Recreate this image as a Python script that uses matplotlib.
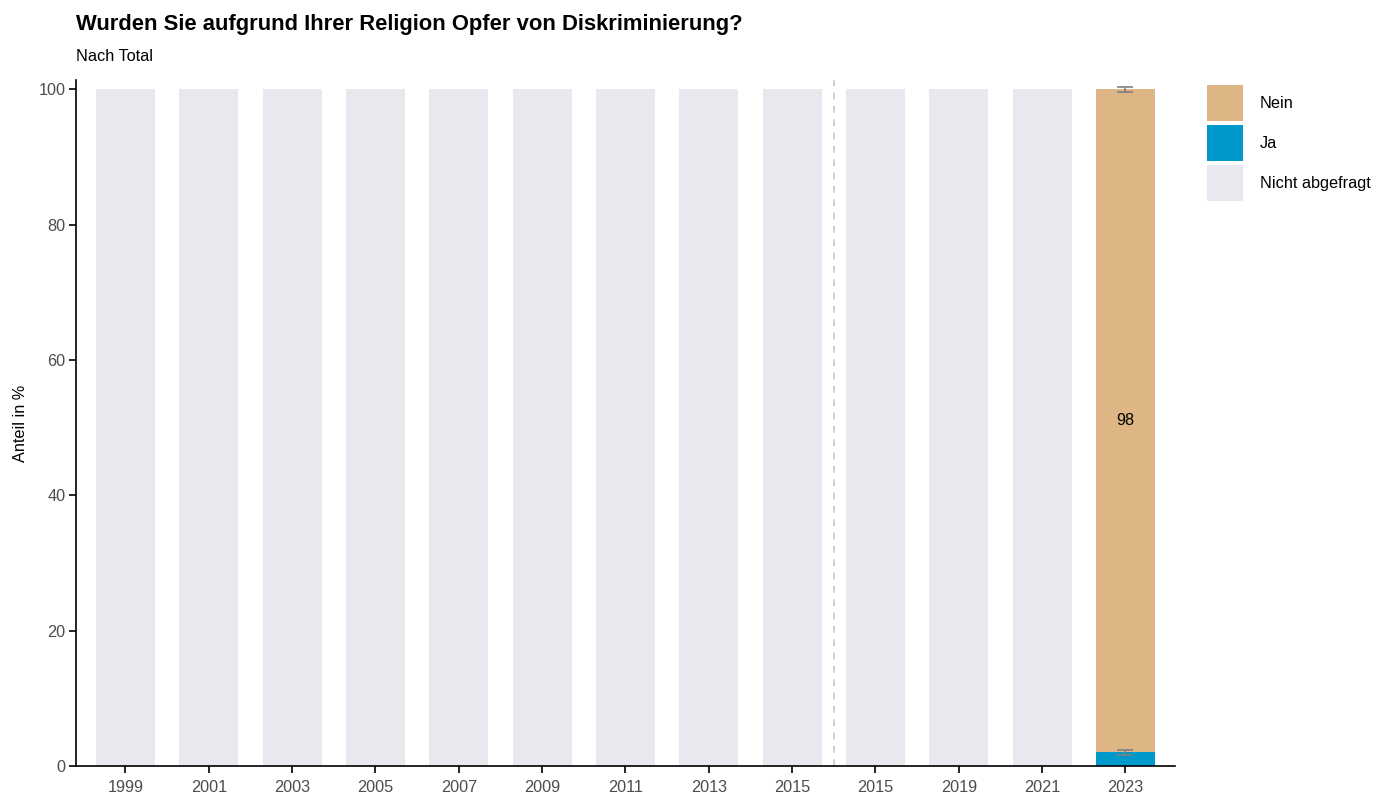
import matplotlib
matplotlib.use("Agg")
import matplotlib.pyplot as plt
from matplotlib.patches import Patch
import numpy as np

plt.rcParams['font.family'] = ['Liberation Sans', 'DejaVu Sans']

years = ["1999", "2001", "2003", "2005", "2007", "2009", "2011", "2013", "2015", "2015", "2019", "2021", "2023"]
not_asked = [100, 100, 100, 100, 100, 100, 100, 100, 100, 100, 100, 100, 0]
ja = [0, 0, 0, 0, 0, 0, 0, 0, 0, 0, 0, 0, 2]
nein = [0, 0, 0, 0, 0, 0, 0, 0, 0, 0, 0, 0, 98]
ja_err = [0, 0, 0, 0, 0, 0, 0, 0, 0, 0, 0, 0, 0.4]
nein_err = [0, 0, 0, 0, 0, 0, 0, 0, 0, 0, 0, 0, 0.4]
nein_label = "98"

c_nein = "#DEB584"
c_ja = "#0099CC"
c_na = "#E8E8EE"

FS = 11.7

fig = plt.figure(figsize=(13.91, 7.97), dpi=100)
ax = fig.add_axes([0.0546, 0.0389, 0.8447 - 0.0546, 0.8996 - 0.0389])

x = np.arange(len(years))
w = 0.71
ja_a = np.array(ja, float)
nein_a = np.array(nein, float)
ax.bar(x, not_asked, width=w, color=c_na, zorder=1)
ax.bar(x, ja_a, width=w, color=c_ja, zorder=2)
ax.bar(x, nein_a, width=w, bottom=ja_a, color=c_nein, zorder=2)

for i in range(len(years)):
    if ja_err[i] > 0:
        ax.errorbar(x[i], ja_a[i], yerr=ja_err[i], fmt='none', ecolor='#808080',
                    elinewidth=1.2, capsize=6, capthick=1.2, zorder=3)
    if nein_err[i] > 0:
        ax.errorbar(x[i], ja_a[i] + nein_a[i], yerr=nein_err[i], fmt='none', ecolor='#808080',
                    elinewidth=1.2, capsize=6, capthick=1.2, zorder=3)
    if nein_a[i] > 0:
        ax.text(x[i], ja_a[i] + nein_a[i] / 2, nein_label, ha='center', va='center',
                fontsize=FS, color='black', zorder=4)

ax.axvline(8.5, color='#C8C8C8', linestyle=(0, (4, 4)), linewidth=1.2, zorder=0)

ax.set_xlim(-0.594, 12.594)
ax.set_ylim(0, 101.4)
ax.set_xticks(x)
ax.set_xticklabels(years)
ax.set_yticks([0, 20, 40, 60, 80, 100])
ax.tick_params(axis='both', labelsize=FS, labelcolor='#4D4D4D', color='black', length=5, width=1.2)
ax.tick_params(axis='x', pad=5)
ax.tick_params(axis='y', pad=2.5)
for s in ['top', 'right']:
    ax.spines[s].set_visible(False)
for s in ['left', 'bottom']:
    ax.spines[s].set_linewidth(1.2)
ax.set_ylabel("Anteil in %", fontsize=FS)
ax.yaxis.set_label_coords(-0.0437, 0.5)

fig.text(0.0546, 0.962, "Wurden Sie aufgrund Ihrer Religion Opfer von Diskriminierung?",
         fontsize=15.8, fontweight='bold', ha='left', va='baseline')
fig.text(0.0546, 0.924, "Nach Total", fontsize=FS, ha='left', va='baseline')

fs_px = FS * 100 / 72.0
hl = 36 / fs_px
hh = (hl - 0.245) / 0.65
handles = [Patch(facecolor=c_nein, label="Nein"),
           Patch(facecolor=c_ja, label="Ja"),
           Patch(facecolor=c_na, label="Nicht abgefragt")]
fig.legend(handles=handles, loc='upper left', bbox_to_anchor=(1207 / 1391, 1 - 85 / 797), frameon=False,
           fontsize=FS, handlelength=hl, handleheight=hh, handletextpad=17 / fs_px,
           labelspacing=4 / fs_px, borderaxespad=0, borderpad=0)

fig.savefig("out.png", dpi=100)
